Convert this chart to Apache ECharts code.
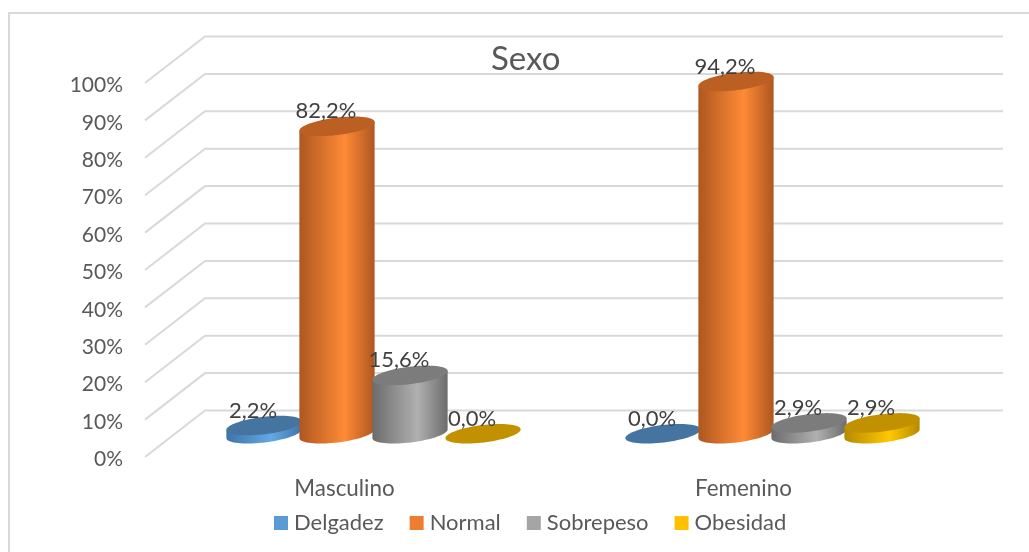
<!DOCTYPE html>
<html>
<head>
<meta charset="utf-8">
<title>Sexo</title>
<script src="https://cdn.jsdelivr.net/npm/echarts@6/dist/echarts.min.js"></script>
<style>
  html, body { margin: 0; padding: 0; background: #fff; overflow: hidden; }
  #chart { width: 1029px; height: 552px; }
</style>
</head>
<body>
<div id="chart"></div>
<script>
// Nutritional status by sex, in percent.
const categories = ['Masculino', 'Femenino'];
const delgadez = [2.2, 0.0];
const normal = [82.2, 94.2];
const sobrepeso = [15.6, 2.9];
const obesidad = [0.0, 2.9];
const yTicks = [0, 10, 20, 30, 40, 50, 60, 70, 80, 90, 100];

// Oblique projection of the floor: how far the back wall sits from the front plane.
const DEPTH_X = 60;
const DEPTH_Y = -46.5;
const BAR_SHIFT = 29;     // columns stand halfway across the floor
const BAR_STEP = 0.183;   // column spacing as a share of a category band
const RADIUS_X = 0.095;   // column radius as a share of a category band
const RADIUS_Y = 8.7;
const TILT = 7 * Math.PI / 180;

const GRID_COLOR = '#D9D9D9';
const TEXT_COLOR = '#595959';
const FONT = 'Lato, "Open Sans", sans-serif';

const palette = {
  Delgadez:  { base: '#5B9BD5', edge: '#3F75A8', bright: '#62A8E6', top: '#44749F' },
  Normal:    { base: '#ED7D31', edge: '#AE5720', bright: '#FF8A36', top: '#BC5F22' },
  Sobrepeso: { base: '#A5A5A5', edge: '#6C6C6C', bright: '#B0B0B0', top: '#7C7C7C' },
  Obesidad:  { base: '#FFC000', edge: '#B78A00', bright: '#FFC800', top: '#C29100' }
};

// Point on a tilted ellipse; angle 0 is the right pole, PI/2 the front.
function ellipsePoint(cx, cy, rx, ry, a) {
  const ex = rx * Math.cos(a);
  const ey = ry * Math.sin(a);
  return [
    cx + ex * Math.cos(TILT) + ey * Math.sin(TILT),
    cy - ex * Math.sin(TILT) + ey * Math.cos(TILT)
  ];
}

function ellipseArc(cx, cy, rx, ry, from, to, steps) {
  const pts = [];
  for (let i = 0; i <= steps; i++) {
    pts.push(ellipsePoint(cx, cy, rx, ry, from + (to - from) * i / steps));
  }
  return pts;
}

function cylinderSeries(name, values, index) {
  const colors = palette[name];
  return {
    name,
    type: 'custom',
    coordinateSystem: 'cartesian2d',
    itemStyle: { color: colors.base },
    z: 5 + index,
    silent: true,
    data: values.map((v, i) => [i, v]),
    encode: { x: 0, y: 1 },
    renderItem(params, api) {
      const value = api.value(1);
      const band = api.size([1, 0])[0];
      const rx = band * RADIUS_X;
      const offset = (index - 1.5) * BAR_STEP * band + BAR_SHIFT;
      const top = api.coord([api.value(0), value]);
      const base = api.coord([api.value(0), 0]);
      const cx = base[0] + offset;
      const baseY = base[1] + DEPTH_Y / 2;
      const topY = top[1] + DEPTH_Y / 2;

      const children = [];
      if (value > 0) {
        // Right pole, round the front of the base to the left pole, then up and across the top.
        const front = ellipseArc(cx, baseY, rx, RADIUS_Y, 0, Math.PI, 36);
        const rimLeft = ellipsePoint(cx, topY, rx, RADIUS_Y, Math.PI);
        const rimRight = ellipsePoint(cx, topY, rx, RADIUS_Y, 0);
        children.push({
          type: 'polygon',
          shape: { points: front.concat([rimLeft, rimRight]) },
          style: {
            fill: new echarts.graphic.LinearGradient(0, 0, 1, 0, [
              { offset: 0, color: colors.edge },
              { offset: 0.6, color: colors.bright },
              { offset: 1, color: colors.edge }
            ])
          }
        });
      }
      children.push({
        type: 'polygon',
        shape: { points: ellipseArc(cx, topY, rx, RADIUS_Y, 0, Math.PI * 2, 72) },
        style: { fill: colors.top }
      });
      children.push({
        type: 'text',
        style: {
          x: cx - 11,
          y: topY - 15,
          text: value.toFixed(1).replace('.', ',') + '%',
          align: 'center',
          verticalAlign: 'middle',
          font: '22px ' + FONT,
          fill: '#404040'
        }
      });
      return { type: 'group', children };
    }
  };
}

// Walls of the chart: each tick runs up the side wall and along the back wall.
const wallSeries = {
  type: 'custom',
  coordinateSystem: 'cartesian2d',
  silent: true,
  z: 1,
  data: yTicks.map(t => [0, t]),
  encode: { x: 0, y: 1 },
  renderItem(params, api) {
    const band = api.size([1, 0])[0];
    const p = api.coord([api.value(0), api.value(1)]);
    const left = p[0] - band / 2;
    return {
      type: 'polyline',
      shape: {
        points: [
          [left, p[1]],
          [left + DEPTH_X, p[1] + DEPTH_Y],
          [left + DEPTH_X + band * categories.length, p[1] + DEPTH_Y]
        ]
      },
      style: { fill: 'none', stroke: GRID_COLOR, lineWidth: 2 }
    };
  }
};

const chart = echarts.init(document.getElementById('chart'), null, { renderer: 'canvas' });
chart.setOption({
  animation: false,
  backgroundColor: '#fff',
  graphic: [{
    type: 'rect',
    z: 0,
    shape: { x: 9, y: 13, width: 1100, height: 620 },
    style: { fill: 'none', stroke: GRID_COLOR, lineWidth: 2 }
  }],
  title: {
    text: 'Sexo',
    left: 491,
    top: 43,
    padding: 0,
    textStyle: { fontFamily: FONT, fontSize: 33, fontWeight: 'normal', color: TEXT_COLOR }
  },
  legend: {
    left: 274,
    top: 512,
    padding: 0,
    icon: 'rect',
    itemWidth: 14,
    itemHeight: 14,
    itemGap: 26,
    selectedMode: false,
    textStyle: { fontFamily: FONT, fontSize: 22, color: TEXT_COLOR, padding: [2, 0, 0, 1] },
    data: Object.keys(palette)
  },
  grid: { left: 145, right: 86, top: 83, bottom: 95 },
  xAxis: {
    type: 'category',
    data: categories,
    axisLine: { show: false },
    axisTick: { show: false },
    axisLabel: { margin: 21, fontFamily: FONT, fontSize: 22.4, color: TEXT_COLOR }
  },
  yAxis: {
    type: 'value',
    min: 0,
    max: 100,
    interval: 10,
    axisLine: { show: false },
    axisTick: { show: false },
    splitLine: { show: false },
    // Labels sit a touch below their tick level, as they do on a front-plane wall.
    axisLabel: { margin: 22, verticalAlign: 'top', lineHeight: 5, formatter: '{value}%', fontFamily: FONT, fontSize: 21, color: TEXT_COLOR }
  },
  series: [
    wallSeries,
    cylinderSeries('Delgadez', delgadez, 0),
    cylinderSeries('Normal', normal, 1),
    cylinderSeries('Sobrepeso', sobrepeso, 2),
    cylinderSeries('Obesidad', obesidad, 3)
  ]
});
</script>
</body>
</html>
